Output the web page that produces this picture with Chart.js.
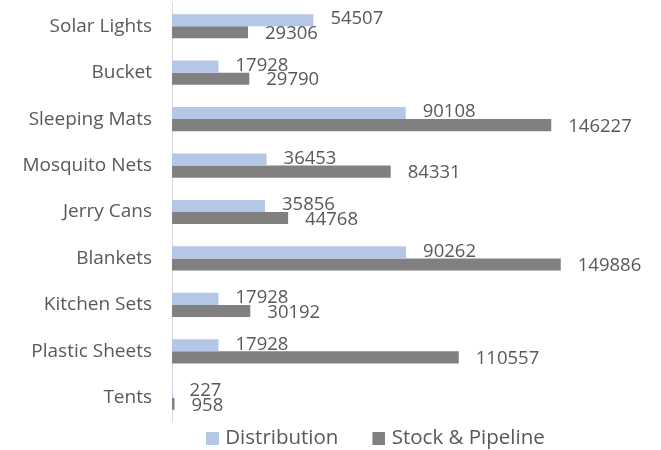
<!DOCTYPE html>
<html>
<head>
<meta charset="utf-8">
<script src="https://cdn.jsdelivr.net/npm/chart.js@4"></script>
<style>
  html, body { margin: 0; padding: 0; background: #fff; }
  #wrap { width: 661px; height: 450px; }
</style>
</head>
<body>
<div id="wrap"><canvas id="myChartBar"></canvas></div>
<script>
const categories = ["Solar Lights", "Bucket", "Sleeping Mats", "Mosquito Nets", "Jerry Cans", "Blankets", "Kitchen Sets", "Plastic Sheets", "Tents"];
const distribution = [54507, 17928, 90108, 36453, 35856, 90262, 17928, 17928, 227];
const stockPipeline = [29306, 29790, 146227, 84331, 44768, 149886, 30192, 110557, 958];

const TEXT_COLOR = "#595959";
const FONT = "'Open Sans', sans-serif";
const BLUE = "#B4C7E7";
const GRAY = "#808080";

// legend marker: small square sitting at the right end of a wider transparent image,
// so the gap between legend items gets wider than the gap between square and text
const legendMark = (color) => {
  const c = document.createElement("canvas");
  c.width = 44;
  c.height = 13;
  const g = c.getContext("2d");
  g.fillStyle = color;
  g.fillRect(31, 0, 13, 13);
  return c;
};
const legendMarks = [legendMark(BLUE), legendMark(GRAY)];

// draw the value at the end of every bar (no datalabels plugin here)
const barValues = {
  id: "barValues",
  afterDatasetsDraw(chart) {
    const ctx = chart.ctx;
    ctx.save();
    ctx.fillStyle = TEXT_COLOR;
    ctx.font = "18.5px " + FONT;
    ctx.textAlign = "left";
    ctx.textBaseline = "middle";
    chart.data.datasets.forEach((ds, i) => {
      const meta = chart.getDatasetMeta(i);
      const shift = i === 0 ? -1 : 1.5;
      meta.data.forEach((bar, j) => {
        ctx.fillText(String(ds.data[j]), bar.x + 17, bar.y + shift);
      });
    });
    ctx.restore();
  },
};

const ctx = document.getElementById("myChartBar").getContext("2d");

new Chart(ctx, {
  type: "bar",
  data: {
    labels: categories,
    datasets: [
      {
        label: "Distribution",
        data: distribution,
        backgroundColor: BLUE,
        categoryPercentage: 0.52,
        barPercentage: 1,
      },
      {
        label: "Stock & Pipeline",
        data: stockPipeline,
        backgroundColor: GRAY,
        categoryPercentage: 0.52,
        barPercentage: 1,
      },
    ],
  },
  options: {
    indexAxis: "y",
    responsive: true,
    maintainAspectRatio: false,
    animation: false,
    layout: {
      padding: { top: 3, right: 74, left: 0, bottom: 0 },
    },
    plugins: {
      legend: {
        position: "bottom",
        fullSize: false,
        align: "start",
        maxHeight: 29,
        labels: {
          color: TEXT_COLOR,
          font: { family: FONT, size: 20.5 },
          usePointStyle: true,
          pointStyleWidth: 36,
          padding: 7,
          generateLabels(chart) {
            const items = Chart.defaults.plugins.legend.labels.generateLabels(chart);
            items.forEach((item, i) => {
              item.pointStyle = legendMarks[i];
            });
            return items;
          },
        },
      },
      tooltip: { enabled: false },
    },
    scales: {
      x: {
        display: false,
        min: 0,
        max: 160000,
      },
      y: {
        grid: { display: false, drawTicks: false },
        border: { display: true, color: "#D9D9D9", width: 1 },
        ticks: {
          color: TEXT_COLOR,
          font: { family: FONT, size: 19 },
          padding: 20,
        },
        afterFit(scale) {
          scale.width = 172;
          scale.paddingTop = 0;
          scale.paddingBottom = 0;
        },
      },
    },
  },
  plugins: [barValues],
});
</script>
</body>
</html>
